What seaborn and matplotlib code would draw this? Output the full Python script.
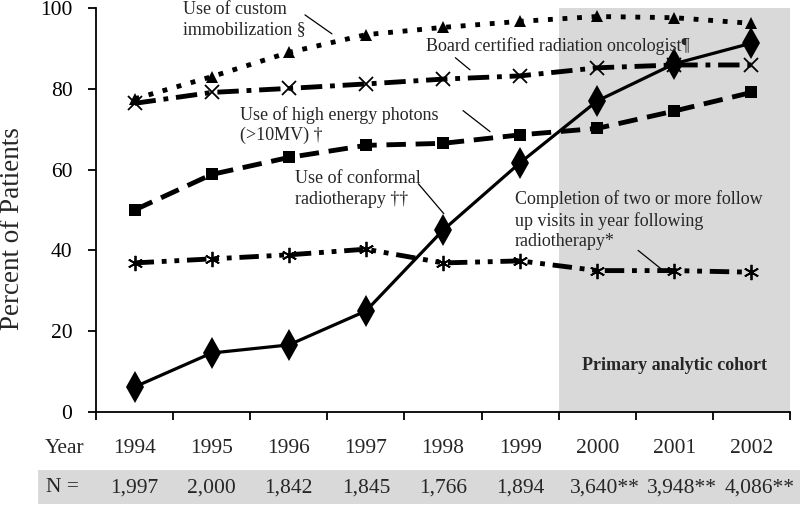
import numpy as np
import pandas as pd
import matplotlib.pyplot as plt
import matplotlib.transforms as mtransforms
from matplotlib.patches import Rectangle
import seaborn as sns

# Data
years = ["1994", "1995", "1996", "1997", "1998", "1999", "2000", "2001", "2002"]
n_labels = ["1,997", "2,000", "1,842", "1,845", "1,766", "1,894", "3,640**", "3,948**", "4,086**"]

conformal = [6.2, 14.6, 16.6, 25.0, 45.0, 61.7, 77.0, 86.2, 91.3]
immobilization = [77.5, 83.0, 89.0, 93.4, 95.2, 96.7, 97.9, 97.6, 96.2]
board_certified = [76.4, 79.1, 80.1, 81.2, 82.4, 83.2, 85.2, 85.9, 85.9]
high_energy = [50.0, 58.8, 63.0, 66.0, 66.5, 68.6, 70.2, 74.5, 79.1]
follow_up = [36.9, 37.9, 38.9, 40.3, 36.9, 37.4, 35.0, 35.0, 34.6]

sns.set_style("ticks", {"axes.edgecolor": "black", "xtick.color": "black", "ytick.color": "black"})
plt.rcParams["font.family"] = ["Liberation Serif", "DejaVu Serif"]

x = np.arange(len(years))
df = pd.DataFrame({"x": x, "conformal": conformal, "immobilization": immobilization,
                   "board": board_certified, "energy": high_energy, "followup": follow_up})

fig = plt.figure(figsize=(8, 5.07), dpi=100)
ax = fig.add_axes([0.12, 0.1874, 0.8675, 0.7968])

# primary analytic cohort shading
ax.axvspan(5.5, 8.5, ymin=0, ymax=1, color="#d9d9d9", lw=0, zorder=0)

common = dict(ax=ax, color="black", legend=False, markeredgecolor="black")
sns.lineplot(data=df, x="x", y="immobilization", lw=3.5, linestyle=(0, (1, 2)),
             marker="^", markersize=9, markeredgewidth=0, **common)
sns.lineplot(data=df, x="x", y="board", lw=3.5, linestyle=(0, (4.4, 1.6, 1, 1.6)),
             marker="x", markersize=10, markeredgewidth=1.3, **common)
sns.lineplot(data=df, x="x", y="energy", lw=3.5, linestyle=(0, (4, 2)),
             marker="s", markersize=8, markeredgewidth=0, **common)
sns.lineplot(data=df, x="x", y="followup", lw=3.5, linestyle=(0, (4, 1.6, 1, 1.6, 1, 1.6)),
             marker=(6, 2, 0), markersize=11, markeredgewidth=1.3, **common)
sns.lineplot(data=df, x="x", y="conformal", lw=2.3, linestyle="-",
             marker="d", markersize=16, markeredgewidth=0, **common)

ax.set_xlim(-0.5, len(years) - 0.5)
ax.set_ylim(0, 100)
ax.set_xticks(np.arange(len(years) + 1) - 0.5)
ax.set_xticklabels([])
ax.set_yticks([0, 20, 40, 60, 80, 100])
ax.tick_params(axis="both", direction="out", length=6, width=1.3, labelsize=15.5, pad=11)
ax.set_xlabel("")
ax.set_ylabel("")
fig.text(0.016, 1 - 229 / 507, "Percent of Patients", fontsize=19.5, rotation=90,
         ha="center", va="center")
for s in ["top", "right"]:
    ax.spines[s].set_visible(False)
for s in ["left", "bottom"]:
    ax.spines[s].set_linewidth(1.3)

# annotations with leader lines
fs = 13
ax.text(0.63, 101.8, "Use of custom\nimmobilization §", fontsize=fs, va="top", linespacing=1.25)
ax.plot([2.21, 2.56], [98.3, 93.6], color="black", lw=0.9)
ax.text(3.78, 90.5, "Board certified radiation oncologist¶", fontsize=fs, va="center")
ax.plot([4.16, 4.35], [87.7, 84.7], color="black", lw=0.9)
ax.text(1.37, 75.8, "Use of high energy photons\n(>10MV) †", fontsize=fs, va="top", linespacing=1.25)
ax.plot([4.26, 4.61], [74.6, 69.4], color="black", lw=0.9)
ax.text(2.08, 59.8, "Use of conformal\nradiotherapy ††", fontsize=fs, va="top", linespacing=1.25)
ax.plot([3.68, 4.01], [56.5, 49.1], color="black", lw=0.9)
ax.text(4.93, 54.8, "Completion of two or more follow\nup visits in year following\nradiotherapy*",
        fontsize=fs, va="top", linespacing=1.25)
ax.plot([6.53, 6.85], [40.0, 35.1], color="black", lw=0.9)
ax.text(7.0, 11.4, "Primary analytic cohort", fontsize=13, fontweight="bold",
        ha="center", va="center")

# table rows below the axis
trans = mtransforms.blended_transform_factory(ax.transData, fig.transFigure)
fig.add_artist(Rectangle((0.0475, 0.006), 0.96, 0.067, transform=fig.transFigure,
                         facecolor="#d9d9d9", edgecolor="none", zorder=0))
fs_tab = 15.5
fig.text(0.081, 0.1144, "Year", fontsize=fs_tab, ha="center", va="center")
fig.text(0.078, 0.0375, "N =", fontsize=fs_tab, ha="center", va="center")
for i, (yr, n) in enumerate(zip(years, n_labels)):
    ax.text(x[i], 0.1144, yr, transform=trans, fontsize=fs_tab, ha="center", va="center")
    ax.text(x[i] + (0.1 if n.endswith("**") else 0), 0.0375, n, transform=trans,
            fontsize=fs_tab, ha="center", va="center")

fig.savefig("out.png", dpi=100)
plt.close(fig)
